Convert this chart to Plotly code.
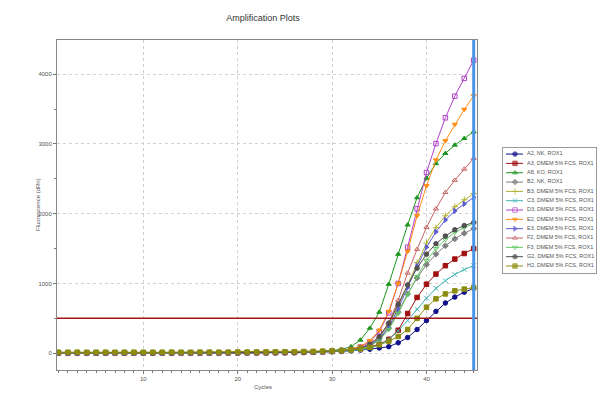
import plotly.graph_objects as go

W, H = 597, 408

cycles = list(range(1, 46))

series_names = [
    "A2, NK, ROX1",
    "A3, DMEM 5% FCS, ROX1",
    "A8, KO, ROX1",
    "B2, NK, ROX1",
    "B3, DMEM 5% FCS, ROX1",
    "C3, DMEM 5% FCS, ROX1",
    "D3, DMEM 5% FCS, ROX1",
    "E2, DMEM 5% FCS, ROX1",
    "E3, DMEM 5% FCS, ROX1",
    "F2, DMEM 5% FCS, ROX1",
    "F3, DMEM 5% FCS, ROX1",
    "G2, DMEM 5% FCS, ROX1",
    "H2, DMEM 5% FCS, ROX1",
]

A2 = [4,3,5,4,3,4,5,4,3,4,4,5,4,3,4,5,4,4,5,4,5,6,6,7,8,
      10,12,15,18,22,28,35,45,58,75,95,150,225,340,470,600,720,805,875,930]
A3 = [6,5,6,5,4,5,6,5,5,6,5,6,5,5,6,6,5,6,6,7,7,8,8,9,10,
      12,15,18,22,28,36,48,65,90,130,200,330,570,800,990,1135,1255,1350,1430,1500]
A8 = [5,6,5,4,5,6,5,6,5,5,6,5,6,6,5,6,7,6,7,8,8,9,10,11,13,
      15,18,22,28,38,55,95,190,360,590,990,1420,1840,2230,2510,2720,2865,2985,3080,3175]
B2 = [4,5,4,5,4,4,5,4,5,5,4,5,5,4,5,5,6,5,6,6,7,7,8,9,10,
      12,14,17,20,25,32,42,60,110,200,360,590,850,1080,1270,1420,1540,1640,1720,1785]
B3 = [5,4,5,5,4,5,5,4,5,6,5,5,6,5,5,6,6,7,6,7,8,8,9,10,11,
      13,15,18,22,27,35,48,70,120,230,410,680,980,1300,1580,1800,1970,2100,2200,2290]
C3 = [3,4,4,3,4,4,3,4,4,5,4,4,5,4,5,5,5,6,5,6,6,7,7,8,9,
      10,12,15,18,22,28,36,48,70,120,200,320,470,630,790,930,1040,1130,1200,1257]
D3 = [6,5,5,6,5,5,6,6,5,6,6,5,6,6,7,6,7,7,8,8,9,9,10,11,11,
      12,15,18,22,28,38,55,90,160,310,580,1000,1520,2070,2590,3005,3375,3685,3940,4200]
E2 = [5,5,6,5,5,6,5,5,6,6,5,6,6,6,7,6,7,7,8,8,9,9,10,11,11,
      12,15,18,24,30,42,62,100,180,330,600,1000,1460,1970,2400,2770,3045,3280,3495,3690]
E3 = [4,4,5,4,4,5,4,5,5,4,5,5,5,6,5,6,6,6,7,7,8,8,9,10,11,
      12,15,18,22,27,34,46,68,110,210,380,640,940,1250,1520,1740,1910,2040,2140,2233]
F2 = [5,6,5,5,6,5,6,5,6,6,6,5,6,7,6,7,7,7,8,8,9,9,10,10,11,
      12,15,18,22,28,38,52,80,130,240,440,760,1150,1490,1805,2070,2305,2480,2640,2795]
F3 = [4,5,4,4,5,4,5,5,4,5,5,5,6,5,6,6,6,6,7,7,8,8,9,9,10,
      12,14,17,21,26,33,45,62,100,190,340,570,840,1100,1330,1500,1630,1730,1800,1860]
G2 = [5,5,4,5,5,5,4,5,6,5,5,6,5,6,6,6,7,6,7,7,8,9,9,10,11,
      12,15,18,22,27,35,48,72,130,240,430,700,980,1220,1420,1570,1680,1770,1830,1875]
H2 = [15,14,15,14,15,15,14,15,15,14,15,15,16,15,15,16,16,15,16,17,17,18,19,20,21,
      22,24,27,30,34,40,48,62,85,120,170,240,340,500,660,780,850,895,920,942]

series_values = [A2, A3, A8, B2, B3, C3, D3, E2, E3, F2, F3, G2, H2]

colors = ["#10108a", "#a01010", "#1e961e", "#808080", "#b0b030", "#40b4b4",
          "#b040c8", "#ff8c10", "#5a5ad2", "#c86464", "#64c864", "#505050", "#8c8c10"]
symbols = ["circle", "square", "triangle-up", "diamond", "cross-thin-open", "x-thin-open",
           "square-open", "triangle-down", "triangle-right", "triangle-up-open",
           "triangle-down-open", "circle", "square"]

THRESHOLD = 500
CURSOR_CYCLE = 45

x_ticks = [10, 20, 30, 40]
y_ticks = [0, 1000, 2000, 3000, 4000]

fig = go.Figure()

for name, vals, col, sym in zip(series_names, series_values, colors, symbols):
    fig.add_trace(go.Scatter(
        x=cycles, y=vals, mode="lines+markers", name=name,
        line=dict(color=col, width=1),
        marker=dict(symbol=sym, size=4.5, color=col, line=dict(color=col, width=1)),
        showlegend=False, xaxis="x", yaxis="y"))

# compact legend drawn in a second set of axes
for i, (name, col, sym) in enumerate(zip(series_names, colors, symbols)):
    fig.add_trace(go.Scatter(
        x=[506, 515, 523], y=[i, i, i], mode="lines+markers",
        line=dict(color=col, width=1),
        marker=dict(symbol=sym, size=[0, 4.5, 0], color=col, line=dict(color=col, width=1)),
        showlegend=False, xaxis="x2", yaxis="y2", hoverinfo="skip"))
fig.add_trace(go.Scatter(
    x=[527] * len(series_names), y=list(range(len(series_names))), mode="text",
    text=series_names, textposition="middle right",
    textfont=dict(size=5.5, color="#555555", family="Liberation Sans, Arial"),
    showlegend=False, xaxis="x2", yaxis="y2", hoverinfo="skip"))

# plot area in pixels
L, R, T, B = 57, 477, 40, 370

fig.update_layout(
    width=W, height=H,
    margin=dict(l=0, r=0, t=0, b=0),
    paper_bgcolor="white", plot_bgcolor="white",
    font=dict(family="Liberation Sans, Arial", size=6, color="#555555"),
    title=dict(text="Amplification Plots", x=263 / W, y=1 - 18 / H,
               xanchor="center", yanchor="middle",
               font=dict(size=9, color="#333333", family="Liberation Sans, Arial")),
    xaxis=dict(domain=[L / W, R / W], range=[0.85, 45.35],
               tickvals=x_ticks, ticktext=[str(v) for v in x_ticks],
               ticks="outside", ticklen=3, tickcolor="#777777",
               minor=dict(dtick=1, tick0=0, ticks="outside", ticklen=2, tickcolor="#777777", showgrid=False),
               showgrid=True, gridcolor="#d0d0d0", griddash="dot", gridwidth=1,
               showline=True, linecolor="#888888", linewidth=1, mirror=True,
               zeroline=False, tickfont=dict(size=6, color="#555555")),
    yaxis=dict(domain=[1 - B / H, 1 - T / H], range=[-240, 4490],
               tickvals=y_ticks, ticktext=[str(v) for v in y_ticks],
               ticks="outside", ticklen=3, tickcolor="#777777",
               minor=dict(dtick=500, tick0=0, ticks="outside", ticklen=2, tickcolor="#777777", showgrid=False),
               showgrid=True, gridcolor="#d0d0d0", griddash="dot", gridwidth=1,
               showline=True, linecolor="#888888", linewidth=1, mirror=True,
               zeroline=False, tickfont=dict(size=6, color="#555555")),
    xaxis2=dict(domain=[503 / W, 596 / W], range=[503, 596], visible=True,
                showticklabels=False, ticks="", showgrid=False, zeroline=False,
                showline=True, linecolor="#999999", mirror=True, anchor="y2", fixedrange=True),
    yaxis2=dict(domain=[1 - 273 / H, 1 - 148 / H], range=[12.75, -0.65],
                showticklabels=False, ticks="", showgrid=False, zeroline=False,
                showline=True, linecolor="#999999", mirror=True, anchor="x2", fixedrange=True),
    annotations=[
        dict(text="Fluorescence (dRn)", x=33 / W, y=1 - 205 / H, xref="paper", yref="paper",
             textangle=-90, showarrow=False, font=dict(size=6, color="#555555")),
        dict(text="Cycles", x=263 / W, y=1 - 392 / H, xref="paper", yref="paper",
             showarrow=False, font=dict(size=6, color="#555555")),
    ],
    shapes=[
        dict(type="line", xref="x domain", yref="y", x0=0, x1=1, y0=THRESHOLD, y1=THRESHOLD,
             line=dict(color="#a31515", width=1.5)),
        dict(type="line", xref="x", yref="y domain", x0=CURSOR_CYCLE, x1=CURSOR_CYCLE, y0=0, y1=1,
             line=dict(color="#4a94e6", width=3)),
    ],
)

fig.write_html("out.html",
               config={"displayModeBar": False},
               post_script="document.body.style.margin='0px';document.body.style.padding='0px';document.body.style.overflow='hidden';")
